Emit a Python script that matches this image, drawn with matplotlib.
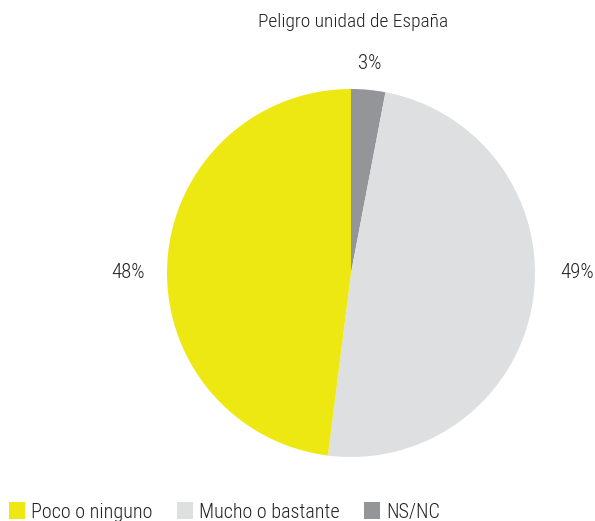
import matplotlib
matplotlib.use("Agg")
import matplotlib.pyplot as plt
from matplotlib.patches import Patch

plt.rcParams['font.family'] = ['Roboto Condensed', 'DejaVu Sans']
plt.rcParams['font.weight'] = 'light'

titulo = "Peligro unidad de España"
categorias = ["NS/NC", "Mucho o bastante", "Poco o ninguno"]
valores = [3, 49, 48]
colores = ["#939598", "#DEDFE0", "#EEE812"]
etiquetas = ["3%", "49%", "48%"]
# posiciones de las etiquetas alrededor del circulo (radio = 1)
pos_etiquetas = [(0.10, 1.14), (1.23, 0.0), (-1.21, 0.0)]
orden_leyenda = ["Poco o ninguno", "Mucho o bastante", "NS/NC"]

texto = "#222222"

fig = plt.figure(figsize=(5.95, 5.21), dpi=100)
ax = fig.add_axes([167 / 595, 64 / 521, 368 / 595, 368 / 521])

ax.pie(valores, colors=colores, startangle=90, counterclock=False,
       radius=1, wedgeprops={'linewidth': 0})
ax.set_xlim(-1, 1)
ax.set_ylim(-1, 1)
ax.set_aspect('equal')
ax.axis('off')

for et, (x, y) in zip(etiquetas, pos_etiquetas):
    ax.text(x, y, et, ha='center', va='center', fontsize=15, color=texto,
            clip_on=False)

fig.text(353 / 595, 1 - 22 / 521, titulo, ha='center', va='center',
         fontsize=14, color=texto)

handles = [Patch(facecolor=colores[categorias.index(c)], edgecolor='none', label=c)
           for c in orden_leyenda]
fig.legend(handles=handles, loc='upper left', bbox_to_anchor=(0.015, 0.036),
           ncol=3, frameon=False, fontsize=14.5, handlelength=0.8,
           handleheight=0.9, handletextpad=0.3, columnspacing=1.2,
           labelcolor=texto, borderaxespad=0, borderpad=0)

fig.savefig("out.png", dpi=100)
